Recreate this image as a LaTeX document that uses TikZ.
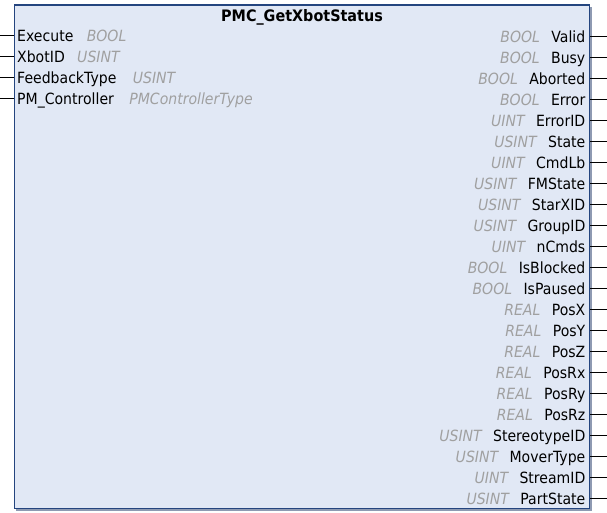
\documentclass[tikz,border=0pt]{standalone}
\usepackage{fontspec}
\setmainfont{DejaVu Sans}[FakeStretch=0.91]
\usetikzlibrary{shadows}
\definecolor{fbfill}{HTML}{E1E8F5}
\definecolor{fbdraw}{HTML}{24457F}
\definecolor{fbshadow}{HTML}{8E9AB2}
\definecolor{typegray}{HTML}{A0A0A0}
\tikzset{
  fbbox/.style={draw=fbdraw, line width=1.4bp, fill=fbfill, inner sep=0,
    drop shadow={shadow xshift=2bp, shadow yshift=-2bp, fill=fbshadow, opacity=1}},
  pinname/.style={inner sep=0, font=\fontsize{15.5}{16}\selectfont, text=black},
  pintype/.style={inner sep=0, font=\fontsize{15.5}{16}\selectfont\itshape, text=typegray},
  pinline/.style={draw=black, line width=1bp},
  titletext/.style={inner sep=0, font=\fontsize{15.85}{17}\selectfont\bfseries}
}
\begin{document}
\begin{tikzpicture}[x=1bp,y=-1bp]
\useasboundingbox (0,0) rectangle (607,513);
\node[fbbox, minimum width=575bp, minimum height=503.5bp] (fb) at (302,256.75) {};
\node[titletext, anchor=base] (title) at (302,21.5) {PMC\_GetXbotStatus};
% inputs
\foreach \n/\t/\g [count=\i from 0] in {Execute/BOOL/13, XbotID/USINT/12, FeedbackType/USINT/16, PM\_Controller/PMControllerType/15} {
  \coordinate (in\i) at (0,{36+20.8*\i});
  \node[pinname, anchor=base west] (inname\i) at ([yshift=-6bp] in\i -| 17,0) {\n};
  \node[pintype, anchor=base west] (intype\i) at ([xshift=\g bp] inname\i.base east) {\t};
  \draw[pinline] (in\i) -- (in\i -| fb.west);
}
% outputs
\foreach \n/\t [count=\i from 0] in {Valid/BOOL, Busy/BOOL, Aborted/BOOL, Error/BOOL, ErrorID/UINT, State/USINT, CmdLb/UINT, FMState/USINT, StarXID/USINT, GroupID/USINT, nCmds/UINT, IsBlocked/BOOL, IsPaused/BOOL, PosX/REAL, PosY/REAL, PosZ/REAL, PosRx/REAL, PosRy/REAL, PosRz/REAL, StereotypeID/USINT, MoverType/USINT, StreamID/UINT, PartState/USINT} {
  \coordinate (out\i) at (607,{36.3+21*\i});
  \node[pinname, anchor=base east] (outname\i) at ([yshift=-6bp] out\i -| 585.5,0) {\n};
  \node[pintype, anchor=base east] (outtype\i) at ([xshift=-11bp] outname\i.base west) {\t};
  \draw[pinline] (out\i -| fb.east) -- (out\i);
}
\end{tikzpicture}
\end{document}
